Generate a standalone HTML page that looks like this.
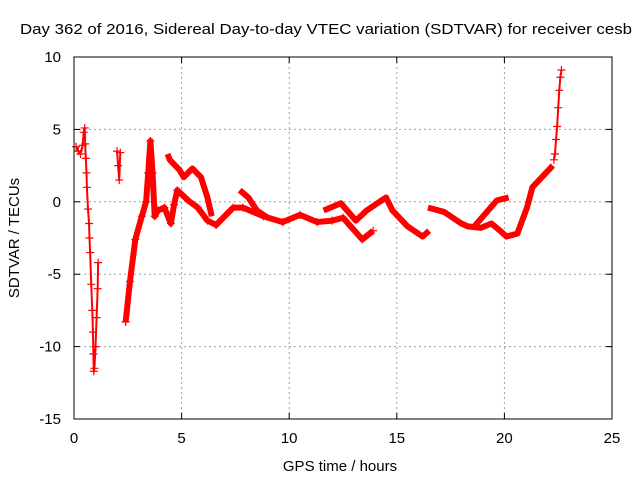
<!DOCTYPE html>
<html><head><meta charset="utf-8"><style>
body{margin:0;background:#fff;}
svg text{font-family:"Liberation Sans",sans-serif;font-size:15px;fill:#000;}
</style></head><body>
<svg id="chart" width="640" height="480" viewBox="0 0 640 480" xmlns="http://www.w3.org/2000/svg">
<rect width="640" height="480" fill="#fff"/>
<text x="20" y="34" textLength="612" lengthAdjust="spacingAndGlyphs">Day 362 of 2016, Sidereal Day-to-day VTEC variation (SDTVAR) for receiver cesb</text>
<text x="340" y="471" text-anchor="middle">GPS time / hours</text>
<text transform="translate(19,238) rotate(-90)" text-anchor="middle">SDTVAR / TECUs</text>
<g id="grid"></g>
<g id="ticks"></g>
<g id="series"></g>
<rect x="74" y="57" width="538" height="362" fill="none" stroke="#000" stroke-width="1"/>
</svg>
<script>
const xTicks=[0,5,10,15,20,25];
const yTicks=[-15,-10,-5,0,5,10];
const segA=[[0.1,3.8],[0.2,3.5],[0.3,3.3],[0.4,3.9],[0.45,4.8],[0.5,5.1],[0.52,4],[0.55,3],[0.58,2],[0.6,1],[0.65,-0.5],[0.7,-1.5],[0.72,-2.5],[0.75,-3.5],[0.8,-5.7],[0.85,-7.5],[0.88,-9],[0.9,-10.5],[0.92,-11.7],[0.95,-11.5],[1.0,-10],[1.05,-8],[1.1,-6],[1.12,-4.2]];
const segB=[[2.0,3.5],[2.05,2.5],[2.1,1.5],[2.15,3.4]];
const lowerBand=[[2.4,-8.3],[2.6,-5.5],[2.85,-2.6],[3.15,-1],[3.35,0],[3.45,2],[3.55,4.2],[3.65,2],[3.75,-1],[3.9,-0.6],[4.2,-0.4],[4.5,-1.5],[4.65,-0.2],[4.8,0.8],[5.3,0.1],[5.75,-0.4],[6.2,-1.3],[6.6,-1.6],[7.0,-1],[7.4,-0.4],[7.85,-0.4],[8.8,-1],[9.7,-1.4],[10.5,-0.9],[11.3,-1.4],[12,-1.3],[12.5,-1.1],[13.4,-2.6],[13.9,-2]];
const upperBand1=[[4.35,3.3],[4.45,2.9],[4.9,2.2],[5.1,1.7],[5.5,2.3],[5.9,1.7],[6.2,0.3],[6.4,-1]];
const upperBand2=[[7.7,0.8],[8.1,0.3],[8.5,-0.6],[9.0,-1.1]];
const upperBand3=[[11.6,-0.6],[12.4,-0.1],[13.1,-1.3],[13.6,-0.6],[14.5,0.3],[14.8,-0.6],[15.5,-1.7],[16.2,-2.4],[16.5,-2]];
const rightLower=[[16.45,-0.4],[17.2,-0.7],[18.0,-1.5],[18.3,-1.7],[18.9,-1.8],[19.4,-1.5],[19.8,-2],[20.1,-2.4],[20.6,-2.2],[21.05,-0.4],[21.3,1],[22.25,2.5]];
const rightUpper=[[18.6,-1.7],[19.65,0.1],[20.2,0.3]];
const rightSpike=[[22.3,2.9],[22.35,3.3],[22.4,4.3],[22.45,5.2],[22.5,6.5],[22.55,7.7],[22.6,8.6],[22.65,9.1]];
const X=v=>74+v*538/25;
const Y=v=>57+(10-v)*362/25;
const NS="http://www.w3.org/2000/svg";
const grid=document.getElementById('grid'),ticks=document.getElementById('ticks'),ser=document.getElementById('series');
function mk(tag,attrs,parent){const e=document.createElementNS(NS,tag);for(const k in attrs)e.setAttribute(k,attrs[k]);parent.appendChild(e);return e;}
xTicks.forEach(t=>{
 if(t>0&&t<25){const g=mk('line',{x1:X(t),x2:X(t),y1:57,y2:419,stroke:'#a0a0a0','stroke-dasharray':'2,3'},grid);
 
 }
 mk('line',{x1:X(t),x2:X(t),y1:419,y2:413,stroke:'#000'},ticks);
 mk('line',{x1:X(t),x2:X(t),y1:57,y2:63,stroke:'#000'},ticks);
 const l=mk('text',{x:X(t),y:443,'text-anchor':'middle'},ticks);l.textContent=t;
 
 
});
yTicks.forEach(t=>{
 if(t>-15&&t<10){const g=mk('line',{x1:74,x2:612,y1:Y(t),y2:Y(t),stroke:'#a0a0a0','stroke-dasharray':'2,3'},grid);
 
 }
 mk('line',{x1:74,x2:80,y1:Y(t),y2:Y(t),stroke:'#000'},ticks);
 mk('line',{x1:612,x2:606,y1:Y(t),y2:Y(t),stroke:'#000'},ticks);
 const l=mk('text',{x:61,y:Y(t)+5,'text-anchor':'end'},ticks);l.textContent=t;
 
 
});
function band(data,name,w){
 const p=mk('polyline',{points:data.map(d=>X(d[0])+','+Y(d[1])).join(' '),fill:'none',stroke:'#f00','stroke-width':w,'stroke-linejoin':'round'},ser);
 
 
}
function marks(data,name){
 data.forEach(d=>{const x=X(d[0]),y=Y(d[1]);
  const m=mk('path',{d:`M${x-4},${y}H${x+4}M${x},${y-4}V${y+4}`,stroke:'#f00','stroke-width':1.2},ser);
  
  });
}
band(segA,'series-segment-a',2);marks(segA,'marker-a');
band(segB,'series-segment-b',2);marks(segB,'marker-b');
band(lowerBand,'series-lower-band',6);marks(lowerBand,'marker-lower');
band(upperBand1,'series-upper-band-1',6);
band(upperBand2,'series-upper-band-2',6);
band(upperBand3,'series-upper-band-3',6);
band(rightLower,'series-right-lower',6);
band(rightUpper,'series-right-upper',6);
band(rightSpike,'series-right-spike',2);marks(rightSpike,'marker-spike');
</script>
</body></html>
